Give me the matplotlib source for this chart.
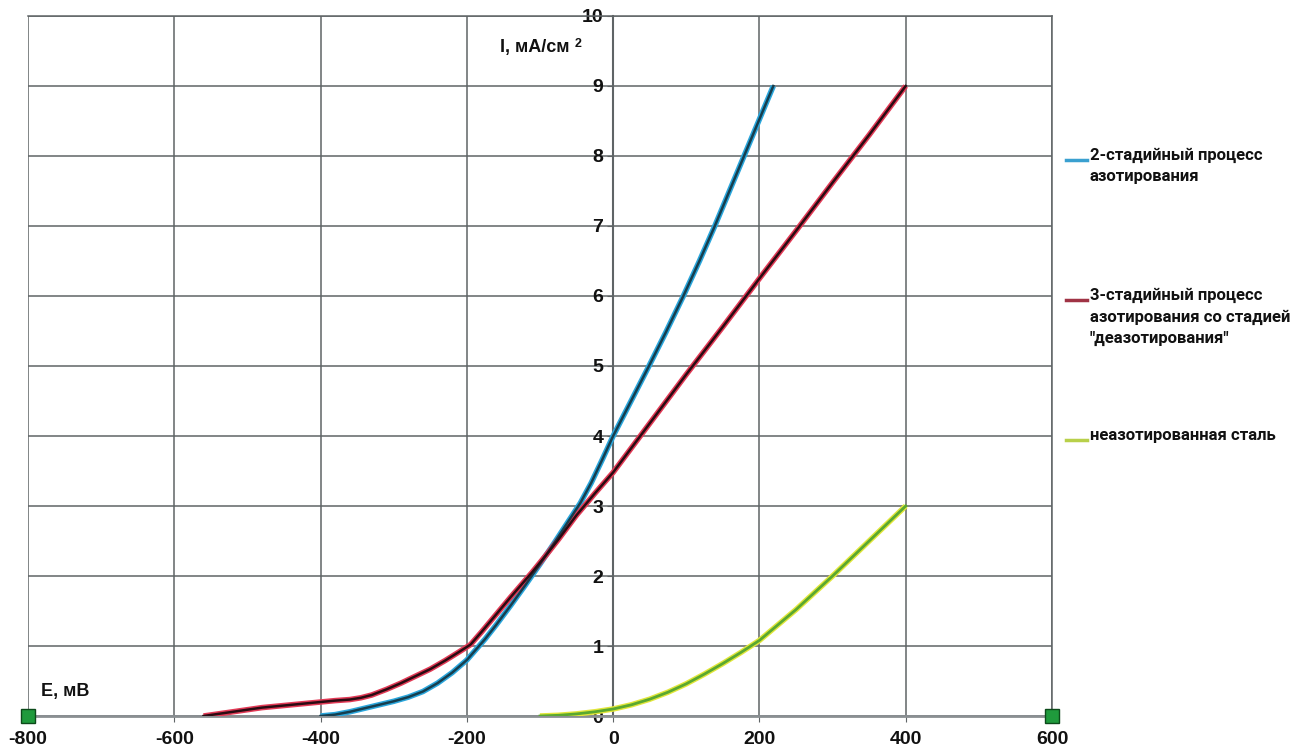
import matplotlib
matplotlib.use("Agg")
import matplotlib.pyplot as plt
from matplotlib.lines import Line2D

plt.rcParams['axes.unicode_minus'] = False

# data: potential E (mV) vs current density I (mA/cm2)
e_two = [-400, -380, -360, -340, -320, -300, -280, -260, -240, -220, -200, -190, -175, -160, -140, -120, -100,
         -80, -60, -45, -30, -15, 0, 25, 49, 72, 96, 118, 139, 159, 179, 199, 219]
i_two = [0, 0.02, 0.06, 0.11, 0.16, 0.21, 0.27, 0.35, 0.47, 0.62, 0.8, 0.92, 1.1, 1.3, 1.58, 1.87, 2.17,
         2.48, 2.8, 3.04, 3.33, 3.66, 4.0, 4.51, 5.0, 5.48, 6.0, 6.5, 7.0, 7.5, 8.0, 8.5, 9.0]

e_three = [-560, -540, -520, -500, -480, -460, -440, -420, -400, -380, -360, -345, -330, -310, -290, -270, -250,
           -230, -210, -195, -180, -160, -140, -111, -90, -75, -50, -25, 0, 50, 100, 150, 200, 250, 300, 350, 400]
i_three = [0, 0.03, 0.06, 0.09, 0.12, 0.14, 0.16, 0.18, 0.2, 0.22, 0.235, 0.26, 0.3, 0.38, 0.47, 0.57, 0.67,
           0.79, 0.92, 1.02, 1.2, 1.45, 1.7, 2.05, 2.32, 2.52, 2.87, 3.18, 3.48, 4.18, 4.88, 5.56, 6.25, 6.93, 7.62, 8.3, 9.0]

e_steel = [-100, -75, -50, -25, 0, 25, 50, 75, 100, 125, 150, 175, 200, 250, 300, 350, 400]
i_steel = [0, 0.01, 0.03, 0.06, 0.1, 0.16, 0.24, 0.34, 0.46, 0.6, 0.75, 0.91, 1.08, 1.52, 2.0, 2.5, 3.0]

labels = ['2-стадийный процесс\nазотирования',
          '3-стадийный процесс\nазотирования со стадией\n"деазотирования"',
          'неазотированная сталь']

x_ticks = [-800, -600, -400, -200, 0, 200, 400, 600]
y_ticks = list(range(0, 11))

fig = plt.figure(figsize=(13.14, 7.51), dpi=100)
ax = fig.add_axes([0.0213, 0.0466, 0.7793, 0.9321])

ax.set_xlim(-800, 600)
ax.set_ylim(0, 10)
ax.set_xticks(x_ticks)
ax.set_yticks(y_ticks)
ax.grid(True, color='#5f6466', linewidth=1.1)
ax.set_axisbelow(True)

for s in ['top', 'right']:
    ax.spines[s].set_color('#5f6466')
    ax.spines[s].set_linewidth(1.1)
ax.spines['left'].set_position(('data', 0))
ax.spines['left'].set_color('#5f6466')
ax.spines['left'].set_linewidth(1.5)
ax.spines['bottom'].set_color('#8a8f92')
ax.spines['bottom'].set_linewidth(2)

ax.tick_params(axis='both', length=4, color='#5f6466')
ax.tick_params(axis='x', pad=7)
ax.tick_params(axis='y', pad=3)
for lab in ax.get_xticklabels() + ax.get_yticklabels():
    lab.set_fontfamily(['Liberation Sans', 'DejaVu Sans'])
    lab.set_fontsize(14)
    lab.set_fontweight('bold')
    lab.set_color('#111111')

# curves: coloured halo with dark core, like the original
ax.plot(e_two, i_two, color='#2aa6dc', lw=4, solid_capstyle='butt', zorder=3)
ax.plot(e_two, i_two, color='#163e4e', lw=1.8, zorder=4)
ax.plot(e_three, i_three, color='#e23a56', lw=4, solid_capstyle='butt', zorder=3)
ax.plot(e_three, i_three, color='#2a0b12', lw=1.8, zorder=4)
ax.plot(e_steel, i_steel, color='#e2e63a', lw=4, solid_capstyle='butt', zorder=3)
ax.plot(e_steel, i_steel, color='#5aa830', lw=2, zorder=4)

# green end markers on the E axis
ax.plot([-800, 600], [0, 0], ls='none', marker='s', ms=10, mfc='#1f9a3c',
        mec='#0c4a1a', mew=1, clip_on=False, zorder=6)

ylab = ax.text(-154, 9.55, 'I, мА/см', fontsize=13, fontweight='bold',
               family=['Liberation Sans', 'DejaVu Sans'], color='#111111', va='center')
ax.annotate('2', xy=(1, 1), xycoords=ylab, xytext=(3, 1), textcoords='offset points',
            fontsize=9, fontweight='bold', family=['Liberation Sans', 'DejaVu Sans'],
            color='#111111', ha='left', va='top')
ax.text(-782, 0.35, 'Е, мВ', fontsize=13, fontweight='bold',
        family=['Liberation Sans', 'DejaVu Sans'], color='#111111', va='center')

# legend drawn by hand to keep the wide spacing
leg_colors = ['#3aa0d0', '#a03345', '#b8d04a']
leg_y = [160, 300, 440]
for c, y, t in zip(leg_colors, leg_y, labels):
    yf = 1 - y / 751
    fig.add_artist(Line2D([1066 / 1314, 1087 / 1314], [yf, yf], color=c, lw=2.5))
    fig.text(1090 / 1314, yf + 0.016, t, fontsize=12, fontweight='bold',
             family=['Roboto', 'DejaVu Sans'], color='#111111', va='top',
             linespacing=1.5)

fig.savefig('out.png', dpi=100)
